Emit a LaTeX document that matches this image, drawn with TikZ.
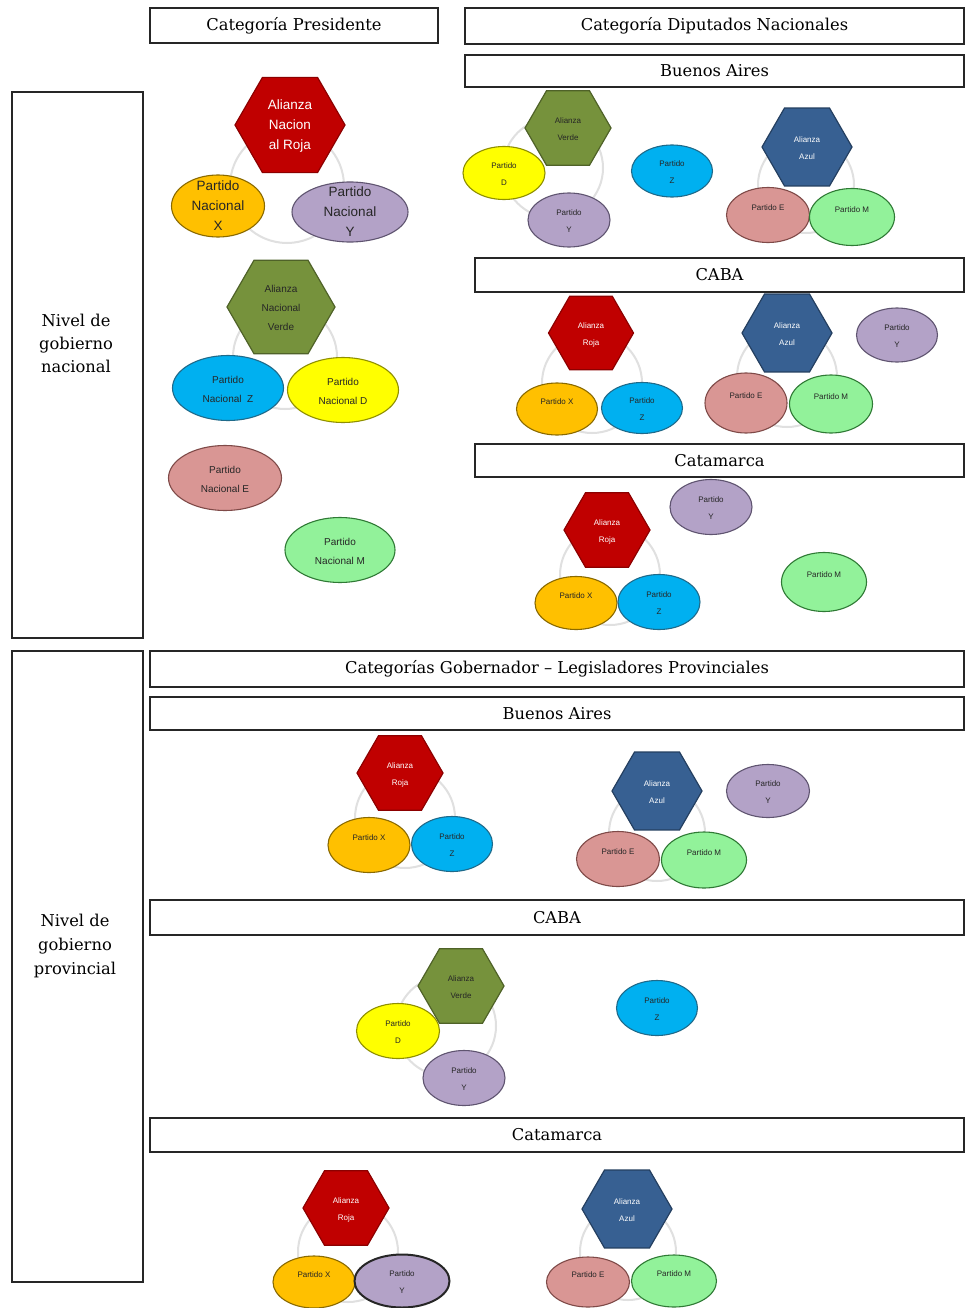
\documentclass[tikz,border=0pt]{standalone}
\usepackage{fontspec}
\setmainfont{DejaVu Serif}
\setsansfont{Liberation Sans}
\usetikzlibrary{shapes.geometric}
\definecolor{cRed}{HTML}{C00000}\definecolor{cRedD}{HTML}{8C0000}
\definecolor{cGrn}{HTML}{76923C}\definecolor{cGrnD}{HTML}{4F6228}
\definecolor{cBlu}{HTML}{376092}\definecolor{cBluD}{HTML}{243F60}
\definecolor{cOr}{HTML}{FFC000}\definecolor{cOrD}{HTML}{8A6A00}
\definecolor{cPu}{HTML}{B3A2C7}\definecolor{cPuD}{HTML}{5F5470}
\definecolor{cCy}{HTML}{00B0F0}\definecolor{cCyD}{HTML}{1F6A8A}
\definecolor{cYe}{HTML}{FFFF00}\definecolor{cYeD}{HTML}{8F8F00}
\definecolor{cPk}{HTML}{D99694}\definecolor{cPkD}{HTML}{7F4A48}
\definecolor{cLg}{HTML}{92F29A}\definecolor{cLgD}{HTML}{2F7A35}
\definecolor{cCyc}{HTML}{E0E0E0}
\newcommand\ct[1]{\smash{\raisebox{-0.32em}{\begin{tabular}{@{}c@{}}#1\end{tabular}}}}
\begin{document}
\begin{tikzpicture}[x=1pt,y=-1pt,
  box/.style={draw=black!85, line width=1.5pt, fill=white, inner sep=0pt, font=\fontsize{16.3}{19}\selectfont},
  sz/.style 2 args={minimum width=#1pt, minimum height=#2pt},
  fs/.style={font=\sffamily\fontsize{8}{17}\selectfont},
  fm/.style={font=\sffamily\fontsize{10}{19}\selectfont},
  fl/.style={font=\sffamily\fontsize{13.5}{20}\selectfont},
  hexbase/.style={regular polygon, regular polygon sides=6, inner sep=0pt, outer sep=0pt, line width=1.2pt, fs},
  hR/.style={hexbase, fill=cRed, draw=cRedD, text=white, minimum size=#1pt},
  hG/.style={hexbase, fill=cGrn, draw=cGrnD, text=black!85, minimum size=#1pt},
  hB/.style={hexbase, fill=cBlu, draw=cBluD, text=white, minimum size=#1pt},
  ell/.style={ellipse, inner sep=0pt, outer sep=0pt, line width=1.1pt, fs, text=black!85},
  eO/.style={ell, fill=cOr, draw=cOrD},
  eP/.style={ell, fill=cPu, draw=cPuD},
  eC/.style={ell, fill=cCy, draw=cCyD},
  eYl/.style={ell, fill=cYe, draw=cYeD},
  eK/.style={ell, fill=cPk, draw=cPkD},
  eM/.style={ell, fill=cLg, draw=cLgD},
  cyc/.style={draw=cCyc, line width=2pt}]
\useasboundingbox (0,0) rectangle (966,1308);
\fill[white] (0,0) rectangle (966,1308);

% header boxes
\node[box, sz={288}{35}] (hPres) at (294,25.5) {Categoría Presidente};
\node[box, sz={499}{36}] (hDip) at (714.5,26) {Categoría Diputados Nacionales};
\node[box, sz={499}{32}] (hBA1) at (714.5,71) {Buenos Aires};
\node[box, sz={489}{34}] (hCABA1) at (719.5,275) {CABA};
\node[box, sz={489}{33}] (hCat1) at (719.5,460.5) {Catamarca};
\node[box, sz={131}{546}] (nivN) at (77.5,365) {};
\node[align=center, font=\fontsize{16.3}{23}\selectfont] (nivNt) at (76,343) {Nivel de\\gobierno\\nacional};
\node[box, sz={131}{631}] (nivP) at (77.5,966.5) {};
\node[align=center, font=\fontsize{16.3}{24}\selectfont] (nivPt) at (75,946) {Nivel de\\gobierno\\provincial};
\node[box, sz={814}{36}] (hGob) at (557,669) {Categorías Gobernador – Legisladores Provinciales};
\node[box, sz={814}{33}] (hBA2) at (557,713.5) {Buenos Aires};
\node[box, sz={814}{35}] (hCABA2) at (557,917.5) {CABA};
\node[box, sz={814}{34}] (hCat2) at (557,1135) {Catamarca};

% cycle rings
\coordinate (c1) at (287,186);  \draw[cyc] (c1) circle[radius=57pt];
\coordinate (c2) at (285,357);  \draw[cyc] (c2) circle[radius=52pt];
\coordinate (c3) at (553,168);  \draw[cyc] (c3) circle[radius=50pt];
\coordinate (c4) at (806,185);  \draw[cyc] (c4) circle[radius=48pt];
\coordinate (c5) at (592,383);  \draw[cyc] (c5) circle[radius=50pt];
\coordinate (c6) at (787,377);  \draw[cyc] (c6) circle[radius=50pt];
\coordinate (c7) at (610,575);  \draw[cyc] (c7) circle[radius=50pt];
\coordinate (c8) at (405,818);  \draw[cyc] (c8) circle[radius=50pt];
\coordinate (c9) at (657,833);  \draw[cyc] (c9) circle[radius=48pt];
\coordinate (c10) at (446,1026); \draw[cyc] (c10) circle[radius=50pt];
\coordinate (c11) at (348,1252); \draw[cyc] (c11) circle[radius=50pt];
\coordinate (c12) at (628,1252); \draw[cyc] (c12) circle[radius=48pt];

% Presidente
\node[hR=110, fl] (pR) at (290,125) {\ct{Alianza\\Nacion\\al Roja}};
\node[eO, sz={93}{62}, fl] (pX) at (218,206) {\ct{Partido\\Nacional\\X}};
\node[eP, sz={116}{60}, fl] (pY) at (350,212) {\ct{Partido\\Nacional\\Y}};
\node[hG=108, fm] (pV) at (281,307) {\ct{Alianza\\Nacional\\Verde}};
\node[eC, sz={111}{65}, fm] (pZ) at (228,388) {\ct{Partido\\Nacional~~Z}};
\node[eYl, sz={111}{65}, fm] (pD) at (343,390) {\ct{Partido\\Nacional D}};
\node[eK, sz={113}{65}, fm] (pE) at (225,478) {\ct{Partido\\Nacional E}};
\node[eM, sz={110}{65}, fm] (pM) at (340,550) {\ct{Partido\\Nacional M}};

% Diputados - Buenos Aires
\node[hG=86] (bV) at (568,128) {\ct{Alianza\\Verde}};
\node[eYl, sz={82}{53}] (bD) at (504,173) {\ct{Partido\\D}};
\node[eP, sz={82}{54}] (bY) at (569,220) {\ct{Partido\\Y}};
\node[eC, sz={81}{52}] (bZ) at (672,171) {\ct{Partido\\Z}};
\node[hB=90] (bA) at (807,147) {\ct{Alianza\\Azul}};
\node[eK, sz={83}{55}] (bE) at (768,215) {\ct{Partido E\\\mbox{}}};
\node[eM, sz={85}{57}] (bM) at (852,217) {\ct{Partido M\\\mbox{}}};

% Diputados - CABA
\node[hR=85] (cR) at (591,333) {\ct{Alianza\\Roja}};
\node[eO, sz={81}{52}] (cX) at (557,409) {\ct{Partido X\\\mbox{}}};
\node[eC, sz={81}{51}] (cZ) at (642,408) {\ct{Partido\\Z}};
\node[hB=90] (cA) at (787,333) {\ct{Alianza\\Azul}};
\node[eK, sz={82}{60}] (cE) at (746,403) {\ct{Partido E\\\mbox{}}};
\node[eM, sz={83}{58}] (cM) at (831,404) {\ct{Partido M\\\mbox{}}};
\node[eP, sz={81}{54}] (cY) at (897,335) {\ct{Partido\\Y}};

% Diputados - Catamarca
\node[hR=86] (kR) at (607,530) {\ct{Alianza\\Roja}};
\node[eO, sz={82}{53}] (kX) at (576,603) {\ct{Partido X\\\mbox{}}};
\node[eC, sz={82}{55}] (kZ) at (659,602) {\ct{Partido\\Z}};
\node[eP, sz={82}{55}] (kY) at (711,507) {\ct{Partido\\Y}};
\node[eM, sz={85}{59}] (kM) at (824,582) {\ct{Partido M\\\mbox{}}};

% Provincial - Buenos Aires
\node[hR=86] (qR) at (400,773) {\ct{Alianza\\Roja}};
\node[eO, sz={82}{55}] (qX) at (369,845) {\ct{Partido X\\\mbox{}}};
\node[eC, sz={81}{55}] (qZ) at (452,844) {\ct{Partido\\Z}};
\node[hB=90] (qA) at (657,791) {\ct{Alianza\\Azul}};
\node[eK, sz={83}{55}] (qE) at (618,859) {\ct{Partido E\\\mbox{}}};
\node[eM, sz={85}{56}] (qM) at (704,860) {\ct{Partido M\\\mbox{}}};
\node[eP, sz={83}{53}] (qY) at (768,791) {\ct{Partido\\Y}};

% Provincial - CABA
\node[hG=86] (rV) at (461,986) {\ct{Alianza\\Verde}};
\node[eYl, sz={83}{55}] (rD) at (398,1031) {\ct{Partido\\D}};
\node[eP, sz={82}{55}] (rY) at (464,1078) {\ct{Partido\\Y}};
\node[eC, sz={81}{55}] (rZ) at (657,1008) {\ct{Partido\\Z}};

% Provincial - Catamarca
\node[hR=86] (sR) at (346,1208) {\ct{Alianza\\Roja}};
\node[eO, sz={82}{52}] (sX) at (314,1282) {\ct{Partido X\\\mbox{}}};
\node[eP, sz={95}{53}, draw=black!85, line width=2pt] (sY) at (402,1281) {\ct{Partido\\Y}};
\node[hB=90] (sA) at (627,1209) {\ct{Alianza\\Azul}};
\node[eK, sz={83}{50}] (sE) at (588,1282) {\ct{Partido E\\\mbox{}}};
\node[eM, sz={85}{52}] (sM) at (674,1281) {\ct{Partido M\\\mbox{}}};
\end{tikzpicture}
\end{document}
